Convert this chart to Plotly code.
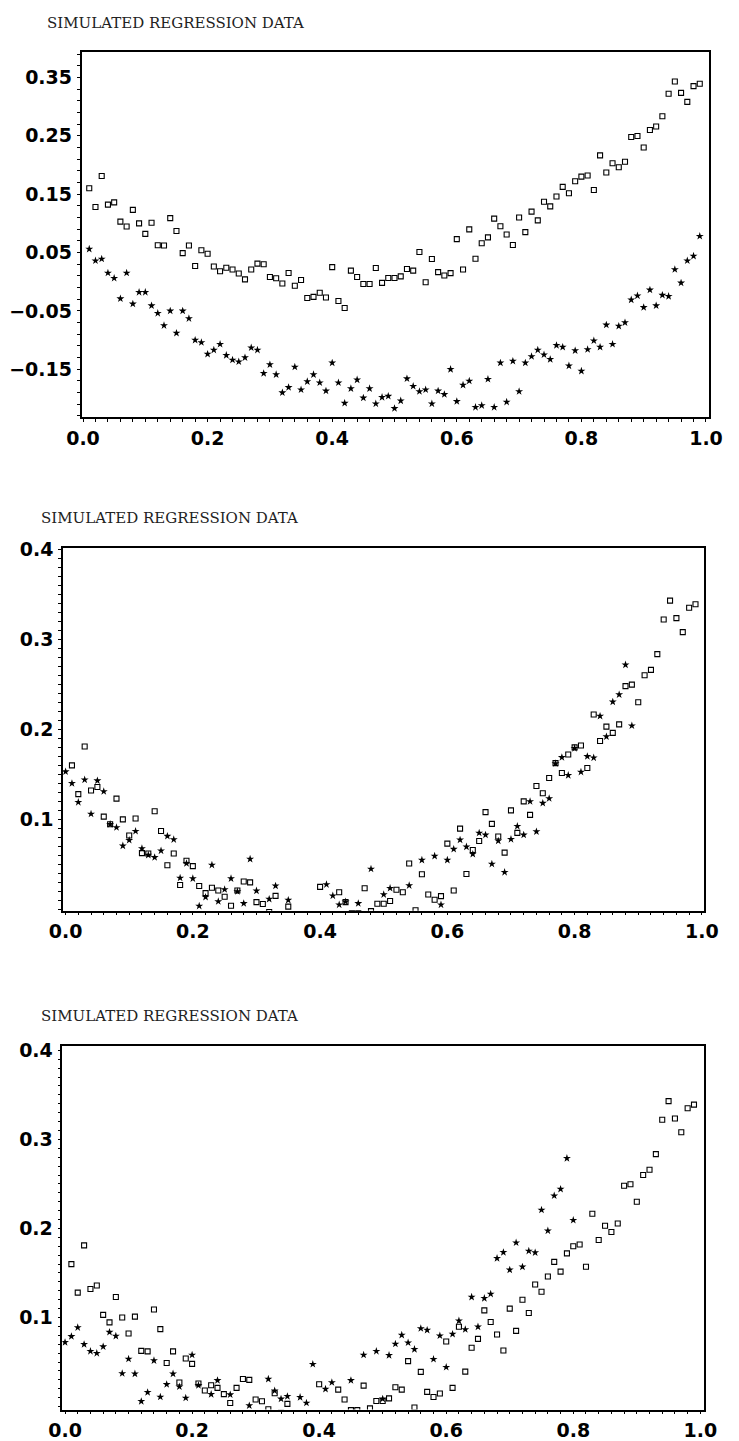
import plotly.graph_objects as go

# ---------------- data ----------------
title_text = "SIMULATED REGRESSION DATA"

x_tick_vals = [0.0, 0.2, 0.4, 0.6, 0.8, 1.0]
x_tick_text = ["0.0", "0.2", "0.4", "0.6", "0.8", "1.0"]

y1_tick_vals = [0.35, 0.25, 0.15, 0.05, -0.05, -0.15]
y1_tick_text = ["0.35", "0.25", "0.15", "0.05", "\u22120.05", "\u22120.15"]
y23_tick_vals = [0.1, 0.2, 0.3, 0.4]
y23_tick_text = ["0.1", "0.2", "0.3", "0.4"]

# observed data (open squares), identical in all three panels
x_obs = [0.01, 0.02, 0.03, 0.04, 0.05, 0.06, 0.07, 0.08, 0.09, 0.10,
         0.11, 0.12, 0.13, 0.14, 0.15, 0.16, 0.17, 0.18, 0.19, 0.20,
         0.21, 0.22, 0.23, 0.24, 0.25, 0.26, 0.27, 0.28, 0.29, 0.30,
         0.31, 0.32, 0.33, 0.34, 0.35, 0.36, 0.37, 0.38, 0.39, 0.40,
         0.41, 0.42, 0.43, 0.44, 0.45, 0.46, 0.47, 0.48, 0.49, 0.50,
         0.51, 0.52, 0.53, 0.54, 0.55, 0.56, 0.57, 0.58, 0.59, 0.60,
         0.61, 0.62, 0.63, 0.64, 0.65, 0.66, 0.67, 0.68, 0.69, 0.70,
         0.71, 0.72, 0.73, 0.74, 0.75, 0.76, 0.77, 0.78, 0.79, 0.80,
         0.81, 0.82, 0.83, 0.84, 0.85, 0.86, 0.87, 0.88, 0.89, 0.90,
         0.91, 0.92, 0.93, 0.94, 0.95, 0.96, 0.97, 0.98, 0.99]
y_obs = [0.160, 0.128, 0.181, 0.132, 0.136, 0.103, 0.0945, 0.123, 0.100, 0.082,
         0.101, 0.0625, 0.062, 0.109, 0.087, 0.049, 0.062, 0.027, 0.054, 0.048,
         0.026, 0.018, 0.024, 0.021, 0.014, 0.004, 0.021, 0.031, 0.030, 0.008,
         0.006, -0.003, 0.015, -0.007, 0.003, -0.028, -0.026, -0.019, -0.027, 0.025,
         -0.033, -0.045, 0.019, 0.008, -0.004, -0.004, 0.0235, -0.002, 0.0063, 0.0063,
         0.0092, 0.0217, 0.019, 0.051, -0.001, 0.039, 0.0165, 0.0107, 0.0147, 0.073,
         0.021, 0.0897, 0.0393, 0.066, 0.076, 0.108, 0.095, 0.081, 0.063, 0.110,
         0.085, 0.120, 0.105, 0.137, 0.129, 0.146, 0.1625, 0.1515, 0.172, 0.180,
         0.182, 0.157, 0.2165, 0.187, 0.203, 0.196, 0.2055, 0.248, 0.2496, 0.230,
         0.260, 0.266, 0.2835, 0.322, 0.343, 0.3235, 0.308, 0.335, 0.339]

# panel 1 stars
x_star1 = x_obs
y_star1 = [0.056, 0.036, 0.039, 0.015, 0.006, -0.029, 0.015, -0.038, -0.018, -0.018,
           -0.041, -0.054, -0.075, -0.050, -0.088, -0.050, -0.063, -0.100, -0.104, -0.124,
           -0.117, -0.107, -0.126, -0.134, -0.137, -0.130, -0.113, -0.117, -0.157, -0.142,
           -0.159, -0.190, -0.181, -0.146, -0.185, -0.171, -0.159, -0.173, -0.187, -0.139,
           -0.173, -0.208, -0.183, -0.168, -0.199, -0.183, -0.209, -0.198, -0.196, -0.217,
           -0.204, -0.166, -0.179, -0.188, -0.185, -0.209, -0.187, -0.193, -0.150, -0.205,
           -0.177, -0.170, -0.215, -0.212, -0.167, -0.215, -0.139, -0.206, -0.136, -0.188,
           -0.139, -0.128, -0.117, -0.125, -0.133, -0.109, -0.112, -0.144, -0.118, -0.153,
           -0.116, -0.101, -0.112, -0.074, -0.107, -0.076, -0.070, -0.031, -0.024, -0.044,
           -0.014, -0.041, -0.023, -0.025, 0.021, -0.002, 0.036, 0.044, 0.078]

# panel 2 stars
x_star2 = [0.00, 0.01, 0.02, 0.03, 0.04, 0.05, 0.06, 0.07, 0.08, 0.09,
           0.10, 0.11, 0.12, 0.13, 0.14, 0.15, 0.16, 0.17, 0.18, 0.19,
           0.20, 0.21, 0.22, 0.23, 0.24, 0.25, 0.26, 0.27, 0.28, 0.29,
           0.30, 0.32, 0.33, 0.35, 0.41, 0.42, 0.43, 0.44, 0.46, 0.48,
           0.50, 0.51, 0.54, 0.56, 0.58, 0.59, 0.60, 0.61, 0.62, 0.63,
           0.64, 0.65, 0.66, 0.67, 0.68, 0.69, 0.70, 0.71, 0.72, 0.73,
           0.74, 0.75, 0.76, 0.77, 0.78, 0.79, 0.80, 0.81, 0.82, 0.83,
           0.84, 0.85, 0.86, 0.87, 0.88, 0.89]
y_star2 = [0.153, 0.140, 0.119, 0.144, 0.106, 0.143, 0.131, 0.0945, 0.091, 0.0706,
           0.0768, 0.0868, 0.0676, 0.0603, 0.0577, 0.0651, 0.0813, 0.0776, 0.0349, 0.0511,
           0.0342, 0.0037, 0.0136, 0.0493, 0.0088, 0.0221, 0.0342, 0.0199, 0.0066, 0.0559,
           0.0206, 0.0114, 0.0261, 0.0103, 0.0276, 0.0151, 0.0051, 0.0085, 0.0066, 0.0449,
           0.0165, 0.0235, 0.0265, 0.0548, 0.0592, 0.0051, 0.0548, 0.0669, 0.0772, 0.0695,
           0.0614, 0.0849, 0.0827, 0.0504, 0.0761, 0.0412, 0.0779, 0.0923, 0.0827, 0.1199,
           0.0864, 0.118, 0.1232, 0.1621, 0.1688, 0.1489, 0.179, 0.1526, 0.1699, 0.1684,
           0.2147, 0.1919, 0.2305, 0.2386, 0.2717, 0.204]

# panel 3 stars
x_star3 = [0.00, 0.01, 0.02, 0.03, 0.04, 0.05, 0.06, 0.07, 0.08, 0.09,
           0.10, 0.11, 0.12, 0.13, 0.14, 0.15, 0.16, 0.17, 0.18, 0.19,
           0.20, 0.21, 0.23, 0.24, 0.26, 0.29, 0.32, 0.33, 0.34, 0.35,
           0.37, 0.38, 0.39, 0.41, 0.42, 0.45, 0.47, 0.49, 0.50, 0.51,
           0.52, 0.53, 0.54, 0.55, 0.56, 0.57, 0.58, 0.59, 0.60, 0.61,
           0.62, 0.63, 0.64, 0.65, 0.66, 0.67, 0.68, 0.69, 0.70, 0.71,
           0.72, 0.73, 0.74, 0.75, 0.76, 0.77, 0.78, 0.79, 0.80]
y_star3 = [0.0721, 0.0788, 0.0888, 0.0699, 0.0621, 0.0599, 0.0673, 0.0836, 0.0792, 0.0372,
           0.0535, 0.0368, 0.0059, 0.016, 0.0517, 0.0108, 0.0249, 0.0368, 0.0223, 0.0097,
           0.058, 0.0238, 0.0138, 0.0294, 0.0134, 0.0011, 0.0309, 0.0178, 0.0086, 0.0115,
           0.0104, 0.0041, 0.0476, 0.0197, 0.0271, 0.0294, 0.058, 0.0621, 0.0086, 0.0576,
           0.0703, 0.0803, 0.0717, 0.0643, 0.0877, 0.0859, 0.0532, 0.0796, 0.0442, 0.0814,
           0.0963, 0.0866, 0.123, 0.0896, 0.1216, 0.1264, 0.1665, 0.1732, 0.1535, 0.184,
           0.1569, 0.1747, 0.1729, 0.2208, 0.1974, 0.2368, 0.2442, 0.2788, 0.2093]

# ---------------- figure ----------------
W, H = 739, 1441
fig = go.Figure()

sq_marker = dict(symbol="square-open", size=5, color="black", line=dict(width=1.1, color="black"))
st_marker = dict(symbol="star", size=6, color="black", line=dict(width=0))

panels = [
    ("x", "y", x_star1, y_star1),
    ("x2", "y2", x_star2, y_star2),
    ("x3", "y3", x_star3, y_star3),
]
for xa, ya, xs, ys in panels:
    fig.add_trace(go.Scatter(x=x_obs, y=y_obs, mode="markers", marker=sq_marker,
                             xaxis=xa, yaxis=ya, showlegend=False, hoverinfo="skip"))
    fig.add_trace(go.Scatter(x=xs, y=ys, mode="markers", marker=st_marker,
                             xaxis=xa, yaxis=ya, showlegend=False, hoverinfo="skip"))

tick_font = dict(family="DejaVu Sans", size=19, color="black", weight="bold")


def xaxis(domain, rng, anchor):
    return dict(domain=domain, range=rng, anchor=anchor,
                showline=True, linecolor="black", linewidth=1.5, mirror=True,
                ticks="outside", ticklen=3, tickwidth=1, tickcolor="black",
                tickvals=x_tick_vals, ticktext=x_tick_text, tickfont=tick_font,
                minor=dict(dtick=0.02, tick0=0, ticks="outside", ticklen=3,
                           tickwidth=1, tickcolor="black"),
                showgrid=False, zeroline=False, ticklabelstandoff=0)


def yaxis(domain, rng, anchor, vals, text, minor_dtick, minor_tick0):
    return dict(domain=domain, range=rng, anchor=anchor,
                showline=True, linecolor="black", linewidth=1.5, mirror=True,
                ticks="outside", ticklen=3, tickwidth=1, tickcolor="black",
                tickvals=vals, ticktext=text, tickfont=tick_font,
                minor=dict(dtick=minor_dtick, tick0=minor_tick0, ticks="outside",
                           ticklen=3, tickwidth=1, tickcolor="black"),
                showgrid=False, zeroline=False, ticklabelstandoff=1)


def py(pix):
    return 1 - pix / H


def px(pix):
    return pix / W


fig.update_layout(
    width=W, height=H,
    margin=dict(l=0, r=0, t=0, b=0),
    paper_bgcolor="white", plot_bgcolor="white",
    xaxis=xaxis([px(69.3), px(722)], [-0.0023, 1.0043], "y"),
    yaxis=yaxis([py(410), py(42)], [-0.232, 0.394], "x", y1_tick_vals, y1_tick_text, 0.02, 0.01),
    xaxis2=xaxis([px(50), px(717.3)], [-0.004, 1.0036], "y2"),
    yaxis2=yaxis([py(907), py(541.7)], [-0.0015, 0.4015], "x2", y23_tick_vals, y23_tick_text, 0.01, 0.0),
    xaxis3=xaxis([px(49.3), px(717.3)], [-0.0042, 1.006], "y3"),
    yaxis3=yaxis([py(1409.3), py(1043.3)], [-0.0033, 0.4048], "x3", y23_tick_vals, y23_tick_text, 0.01, 0.0),
)

title_font = dict(family="DejaVu Serif", size=15, color="#222222")
for tx, ty in [(31.7, 13.3), (25, 511.7), (25, 1012.7)]:
    fig.add_annotation(text=title_text, xref="paper", yref="paper",
                       x=px(tx), y=py(ty), xanchor="left", yanchor="middle",
                       showarrow=False, font=title_font)

fig.write_html(
    "out.html",
    config={"displayModeBar": False},
    post_script="document.body.style.margin='0px';document.body.style.padding='0px';"
                "document.documentElement.style.overflow='hidden';",
)
